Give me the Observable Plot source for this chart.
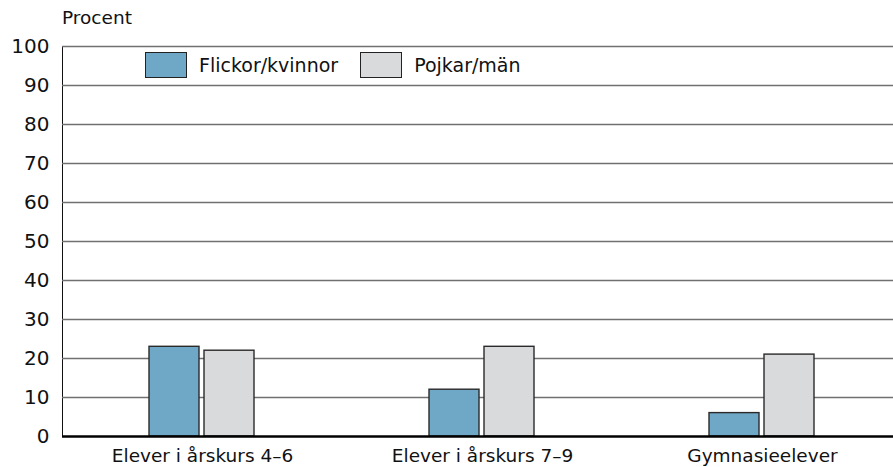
<!DOCTYPE html>
<html>
<head>
<meta charset="utf-8">
<script src="https://cdn.jsdelivr.net/npm/d3@7"></script>
<script src="https://cdn.jsdelivr.net/npm/@observablehq/plot@0.6"></script>
<style>
  html, body { margin: 0; padding: 0; background: #fff; overflow: hidden; }
  #wrap { position: relative; width: 893px; height: 467px; font-family: "DejaVu Sans", sans-serif; color: #111; }
  #title { height: 34px; box-sizing: border-box; padding-left: 62px; padding-top: 7px; font-size: 18.5px; line-height: 21px; }
  .legend { position: absolute; top: 52px; left: 145px; display: flex; align-items: center; font-size: 19px; }
  .sw { width: 40px; height: 24px; border: 1.5px solid #222; display: inline-block; }
  .item { display: flex; align-items: center; }
  .item span.lab { margin-left: 12px; }
  #chart svg [aria-label^="y-axis"] text { font-size: 20px; }
  #chart svg [aria-label^="fx-axis"] text { font-size: 18.5px; }
</style>
</head>
<body>
<div id="wrap">
  <div id="title">Procent</div>
  <div id="chart"></div>
  <div class="legend" id="legend"></div>
</div>
<script>
const groups = ["Elever i årskurs 4–6", "Elever i årskurs 7–9", "Gymnasieelever"];
const series = ["Flickor/kvinnor", "Pojkar/män"];
const flickor = [23, 12, 6];
const pojkar = [22, 23, 21];
const yTicks = [0, 10, 20, 30, 40, 50, 60, 70, 80, 90, 100];
const colors = ["#6fa7c7", "#d9dadc"];

const data = [];
groups.forEach((g, i) => {
  data.push({group: g, serie: series[0], value: flickor[i]});
  data.push({group: g, serie: series[1], value: pojkar[i]});
});

const chart = Plot.plot({
  width: 893,
  height: 433,
  marginTop: 12,
  marginBottom: 31,
  marginLeft: 61,
  marginRight: 0,
  style: {fontFamily: "DejaVu Sans, sans-serif", fontSize: "19px", color: "#111", background: "transparent"},
  fx: {domain: groups, range: [61, 903], padding: 0, axis: "bottom", tickSize: 0, tickPadding: 12, label: null},
  x: {domain: series, paddingInner: 0.09, paddingOuter: 1.55, axis: null},
  y: {domain: [0, 100], ticks: yTicks, tickSize: 0, tickPadding: 13, label: null, line: true},
  color: {domain: series, range: colors},
  marks: [
    Plot.ruleY(yTicks.filter(d => d > 0), {stroke: "#707070", strokeWidth: 1.6}),
    Plot.barY(data, {fx: "group", x: "serie", y: "value", fill: "serie", stroke: "#2a2a2a", strokeWidth: 1.4}),
    Plot.ruleY([0], {stroke: "#000", strokeWidth: 2.5})
  ]
});
document.getElementById("chart").appendChild(chart);

const leg = document.getElementById("legend");
series.forEach((s, i) => {
  const it = document.createElement("div");
  it.className = "item";
  it.style.marginRight = i === 0 ? "22px" : "0";
  const sw = document.createElement("span");
  sw.className = "sw";
  sw.style.background = colors[i];
  const lab = document.createElement("span");
  lab.className = "lab";
  lab.textContent = s;
  it.appendChild(sw);
  it.appendChild(lab);
  leg.appendChild(it);
});
</script>
</body>
</html>
